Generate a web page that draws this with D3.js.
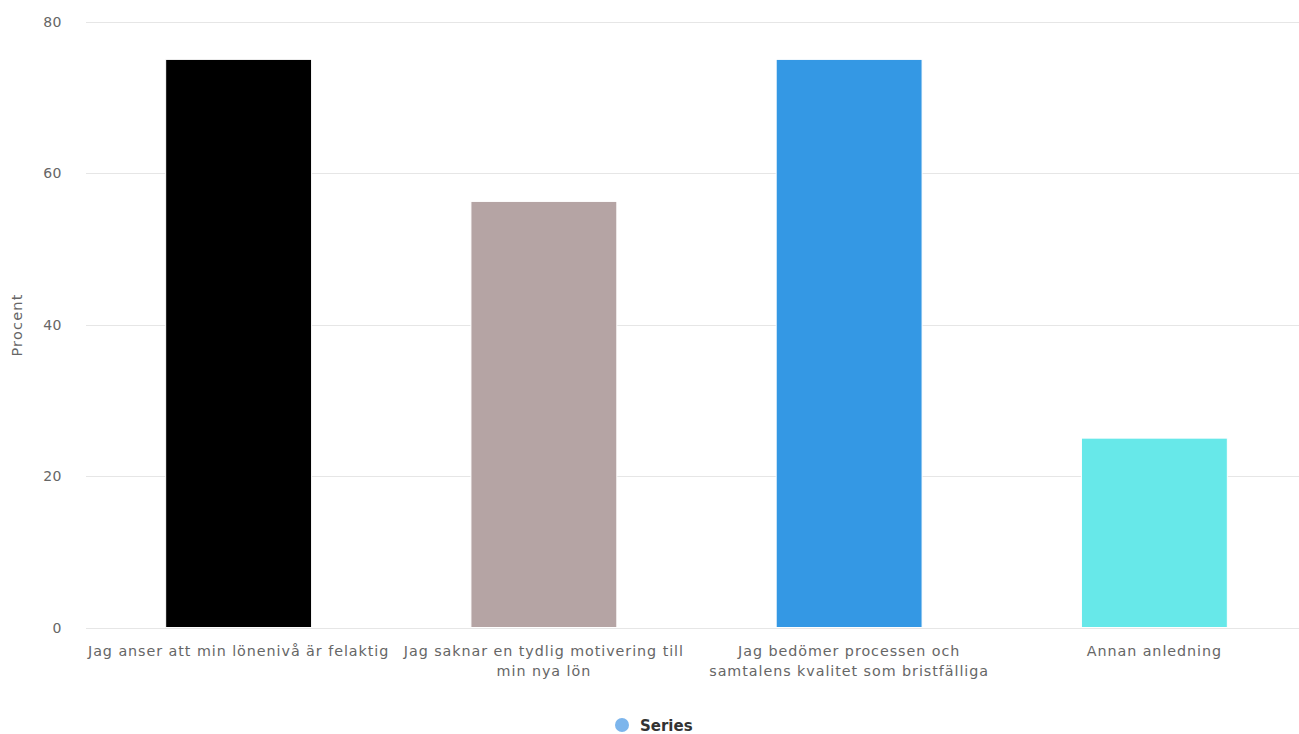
<!DOCTYPE html>
<html>
<head>
<meta charset="utf-8">
<script src="https://cdn.jsdelivr.net/npm/d3@7"></script>
<style>
  html, body { margin: 0; padding: 0; background: #fff; overflow: hidden; }
  svg { display: block; font-family: "DejaVu Sans", "Open Sans", sans-serif; }
</style>
</head>
<body>
<svg id="chart" width="1299" height="734"></svg>
<script>
const categories = [
  ["Jag anser att min lönenivå är felaktig"],
  ["Jag saknar en tydlig motivering till", "min nya lön"],
  ["Jag bedömer processen och", "samtalens kvalitet som bristfälliga"],
  ["Annan anledning"]
];
const values = [75, 56.25, 75, 25];
const colors = ["#000000", "#b5a4a4", "#3498e4", "#67e8e9"];
const yTicks = [0, 20, 40, 60, 80];
const yTitle = "Procent";
const seriesName = "Series";

const svg = d3.select("#chart");
const m = { left: 86, right: 1307, top: 21.5, bottom: 627.5 };

const x = d3.scaleBand()
  .domain(d3.range(categories.length))
  .range([m.left, m.right])
  .paddingInner(0.522)
  .paddingOuter(0.261);

const y = d3.scaleLinear().domain([0, 80]).range([m.bottom, m.top]);

// gridlines
svg.append("g").selectAll("line").data(yTicks).join("line")
  .attr("x1", m.left).attr("x2", m.right)
  .attr("y1", d => Math.round(y(d)) + 0.5).attr("y2", d => Math.round(y(d)) + 0.5)
  .attr("stroke", "#e6e6e6").attr("stroke-width", 1);

// y tick labels
svg.append("g").selectAll("text").data(yTicks).join("text")
  .attr("x", 62).attr("y", d => y(d) + 5)
  .attr("text-anchor", "end")
  .attr("font-size", 14).attr("fill", "#666")
  .attr("letter-spacing", 0.5)
  .text(d => d);

// y title
svg.append("text")
  .attr("transform", "translate(22,325) rotate(-90)")
  .attr("text-anchor", "middle")
  .attr("font-size", 14.5).attr("fill", "#666")
  .attr("letter-spacing", 1.2)
  .text(yTitle);

// bars
svg.append("g").selectAll("rect").data(values).join("rect")
  .attr("x", (d, i) => x(i))
  .attr("y", d => y(d))
  .attr("width", x.bandwidth())
  .attr("height", d => y(0) - y(d))
  .attr("fill", (d, i) => colors[i])
  .attr("stroke", "#fff").attr("stroke-width", 1);

// x labels
const xl = svg.append("g").selectAll("text").data(categories).join("text")
  .attr("text-anchor", "middle")
  .attr("font-size", 14.3).attr("fill", "#666")
  .attr("letter-spacing", 0.95)
  .attr("x", (d, i) => x(i) + x.bandwidth() / 2)
  .attr("y", 656);
xl.selectAll("tspan").data(d => d).join("tspan")
  .attr("x", function() { return d3.select(this.parentNode).attr("x"); })
  .attr("dy", (d, i) => i === 0 ? 0 : 20)
  .text(d => d);

// legend
const lg = svg.append("g");
lg.append("circle").attr("cx", 622).attr("cy", 725).attr("r", 7).attr("fill", "#7cb5ec");
lg.append("text").attr("x", 640).attr("y", 731)
  .attr("font-size", 15).attr("font-weight", "bold").attr("fill", "#333")
  .text(seriesName);
</script>
</body>
</html>
